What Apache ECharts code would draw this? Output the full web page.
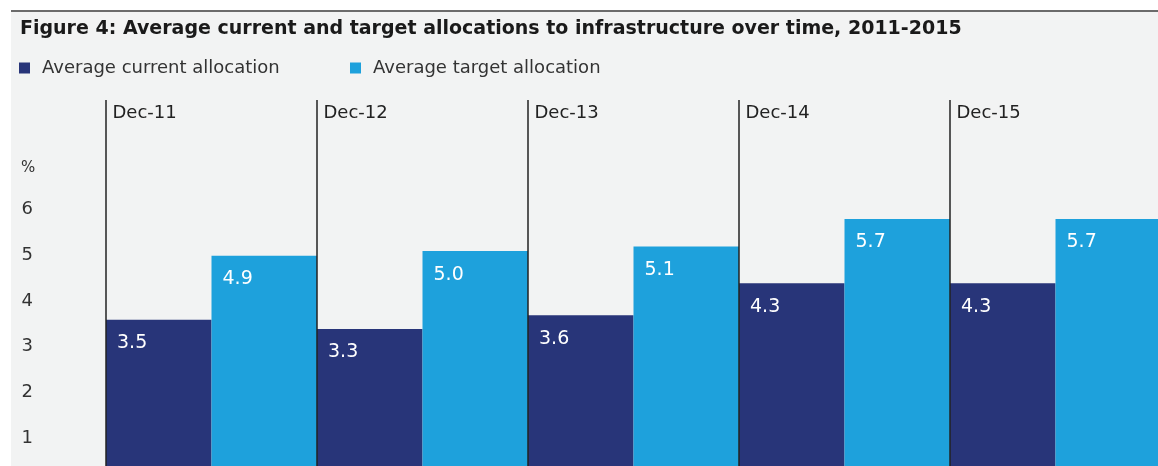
<!DOCTYPE html>
<html>
<head>
<meta charset="utf-8">
<title>Average current and target allocations to infrastructure</title>
<script src="https://cdn.jsdelivr.net/npm/echarts@6/dist/echarts.min.js"></script>
<style>
  html, body { margin: 0; padding: 0; background: #ffffff; }
  #chart { width: 1158px; height: 466px; }
</style>
</head>
<body>
<div id="chart"></div>
<script>
// Survey periods (one column per December)
const categories = ['Dec-11', 'Dec-12', 'Dec-13', 'Dec-14', 'Dec-15'];
// Average allocations to infrastructure, % of portfolio
const currentAllocation = [3.5, 3.3, 3.6, 4.3, 4.3];
const targetAllocation = [4.9, 5.0, 5.1, 5.7, 5.7];
// Value-axis labels that are printed
const yTickLabels = [1, 2, 3, 4, 5, 6];

const seriesNames = ['Average current allocation', 'Average target allocation'];
const colors = ['#283579', '#1ea1dc'];
const font = 'DejaVu Sans';

const chart = echarts.init(document.getElementById('chart'), null, { renderer: 'canvas' });

const valueLabel = {
  show: true,
  position: 'insideTopLeft',
  distance: 11,
  offset: [0, 3],
  color: '#ffffff',
  fontFamily: font,
  fontSize: 19,
  formatter: p => p.value.toFixed(1)
};

const legendText = { fontFamily: font, fontSize: 18, color: '#333333', padding: [0, 0, 0, 7] };

chart.setOption({
  animation: false,
  backgroundColor: '#ffffff',
  graphic: [
    {
      type: 'rect', z: -100,
      shape: { x: 11, y: 11, width: 1147, height: 455 },
      style: { fill: '#f2f3f3' }
    },
    {
      type: 'rect', z: -99,
      shape: { x: 11, y: 10, width: 1147, height: 2 },
      style: { fill: '#6b6b6b' }
    },
    {
      type: 'text', z: 10,
      left: 21, top: 161,
      style: { text: '%', fill: '#333333', font: '15px "DejaVu Sans"' }
    }
  ],
  title: {
    text: 'Figure 4: Average current and target allocations to infrastructure over time, 2011-2015',
    left: 20, top: 20, padding: 0,
    textStyle: { fontFamily: font, fontWeight: 'bold', fontSize: 19, color: '#1a1a1a' }
  },
  legend: [
    {
      data: [seriesNames[0]], left: 19, top: 59, padding: 0,
      icon: 'rect', itemWidth: 11, itemHeight: 11,
      textStyle: legendText
    },
    {
      data: [seriesNames[1]], left: 350, top: 59, padding: 0,
      icon: 'rect', itemWidth: 11, itemHeight: 11,
      textStyle: legendText
    }
  ],
  // the plot runs past the right and bottom edges of the canvas
  grid: { left: 106, width: 1055, top: 100, height: 380, outerBoundsMode: 'none', containLabel: false },
  xAxis: {
    type: 'category',
    data: categories,
    position: 'top',
    z: 5,
    axisLine: { show: false },
    axisTick: { show: false },
    splitLine: { show: true, lineStyle: { color: '#222222', width: 1.5 } },
    axisLabel: {
      inside: true,
      interval: 0,
      margin: 4,
      color: '#222222',
      fontFamily: font,
      fontSize: 18,
      formatter: v => '{a|' + v + '}',
      rich: { a: { width: 198, align: 'left', fontFamily: font, fontSize: 18, color: '#222222' } }
    }
  },
  yAxis: {
    type: 'value',
    min: 0,
    max: 8.3,
    interval: 1,
    axisLine: { show: false },
    axisTick: { show: false },
    splitLine: { show: false },
    axisLabel: {
      margin: 73,
      color: '#333333',
      fontFamily: font,
      fontSize: 18,
      formatter: v => (yTickLabels.indexOf(v) >= 0 ? '{n|' + v + '}' : ''),
      rich: { n: { padding: [8, 0, 0, 0], fontFamily: font, fontSize: 18, color: '#333333' } }
    }
  },
  series: [
    {
      name: seriesNames[0], type: 'bar', data: currentAllocation,
      barGap: '0%', barCategoryGap: '0%',
      itemStyle: { color: colors[0] },
      label: valueLabel
    },
    {
      name: seriesNames[1], type: 'bar', data: targetAllocation,
      barGap: '0%', barCategoryGap: '0%',
      itemStyle: { color: colors[1] },
      label: valueLabel
    }
  ]
});
</script>
</body>
</html>
